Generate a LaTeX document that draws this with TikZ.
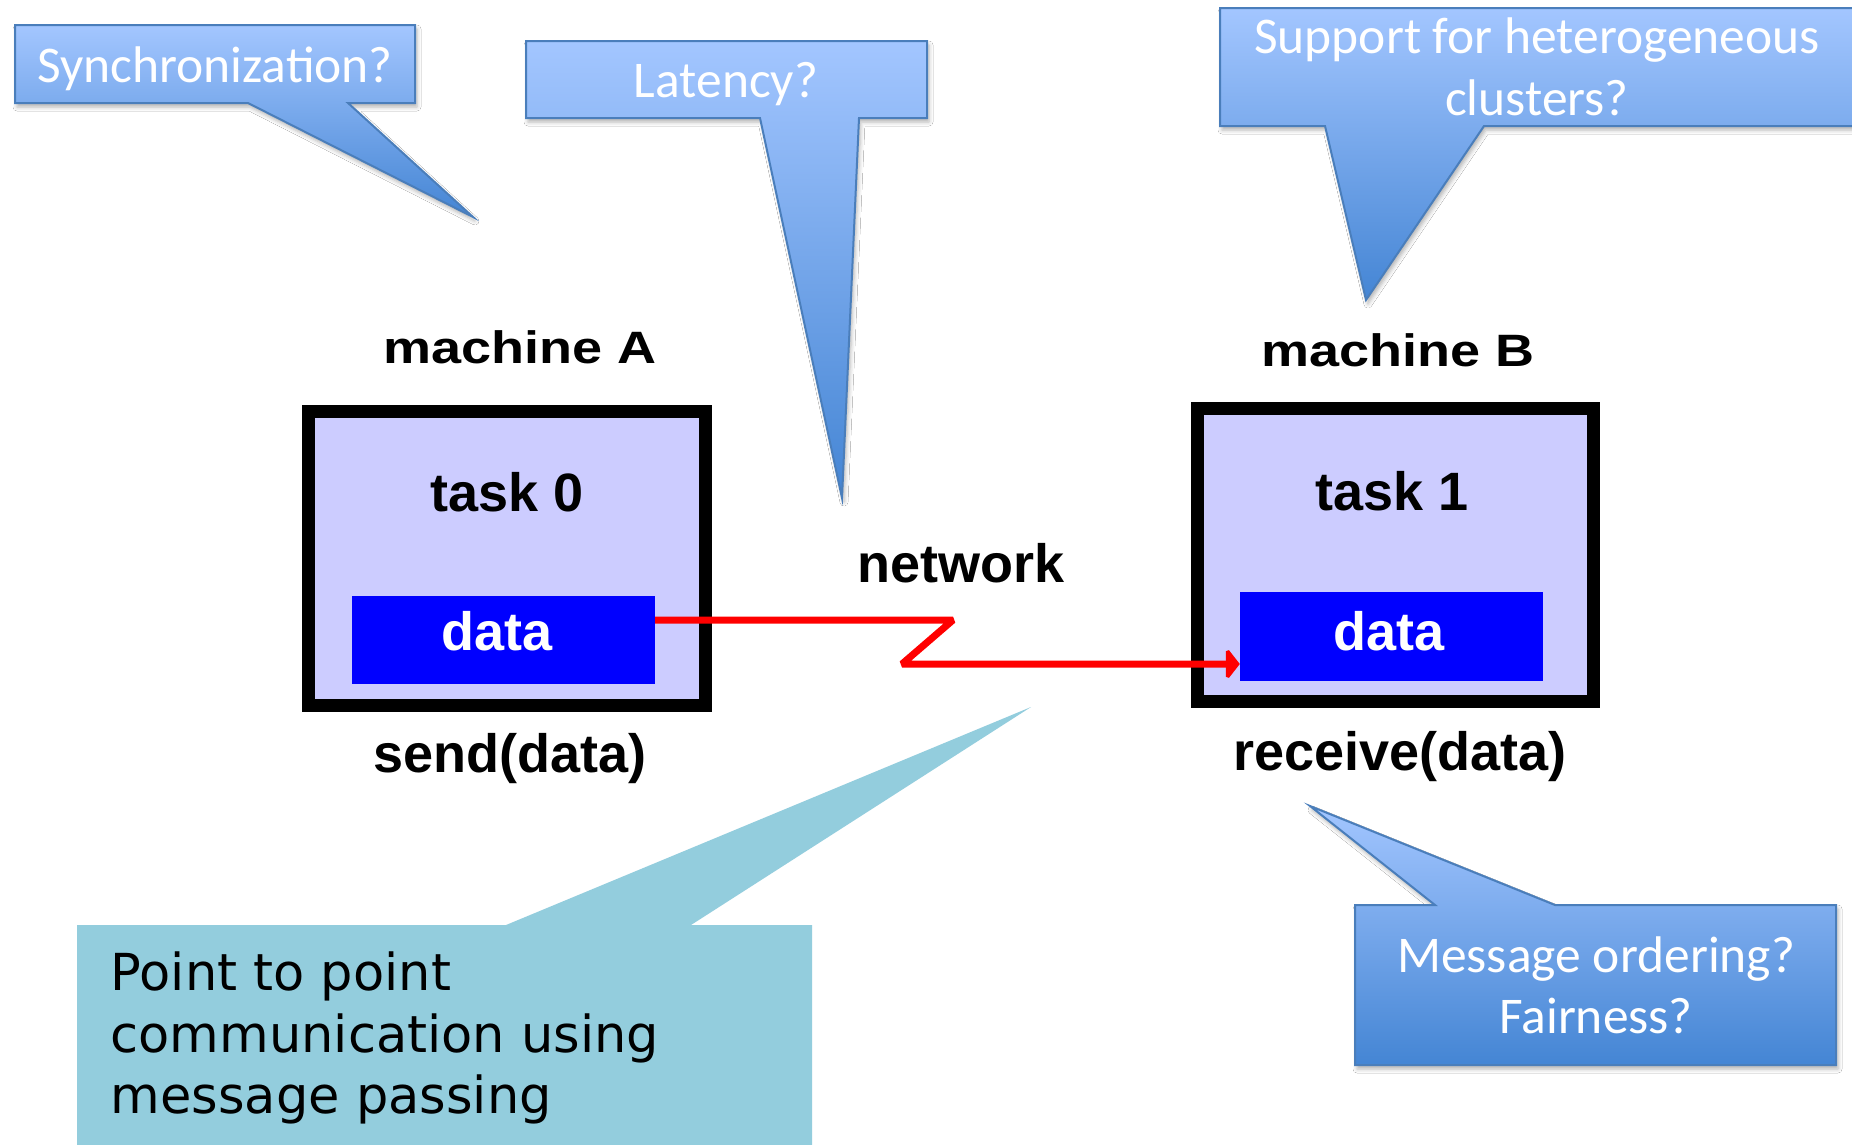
\documentclass[tikz,border=0pt]{standalone}
\usepackage{fontspec}
\setmainfont{Carlito}
\newfontfamily\labelfont{Liberation Sans}
\newfontfamily\notefont{DejaVu Sans}
\usetikzlibrary{arrows.meta,shadows.blur}

\definecolor{calloutTop}{HTML}{A3C6FF}
\definecolor{calloutBot}{HTML}{4485D4}
\definecolor{calloutLine}{HTML}{4A7EBB}
\definecolor{noteFill}{HTML}{93CDDD}
\definecolor{taskFill}{HTML}{CCCCFF}
\definecolor{dataFill}{HTML}{0000FF}

\begin{document}
\begin{tikzpicture}[x=1pt,y=-1pt,
  callout/.style={draw=calloutLine, line width=2pt, line join=miter,
    top color=calloutTop, bottom color=calloutBot,
    blur shadow={shadow xshift=2pt, shadow yshift=-4pt,
      shadow blur radius=4pt, shadow opacity=30}},
  callouttext/.style={text=white, font=\fontsize{51.5}{60}\selectfont,
    inner sep=0pt, anchor=base},
  notetext/.style={font=\notefont\fontsize{51}{62}\selectfont,
    inner sep=0pt, anchor=base west},
  labeltext/.style={font=\labelfont\bfseries\fontsize{54}{60}\selectfont,
    inner sep=0pt, anchor=base},
  machinebox/.style={draw=black, line width=13pt, fill=taskFill,
    inner sep=0pt},
  databox/.style={fill=dataFill, inner sep=0pt, minimum width=303pt},
  netlink/.style={draw=red, line width=7pt, line join=miter, miter limit=2,
    -{Triangle[length=14pt,width=35pt]}}
]
\useasboundingbox (0,0) rectangle (1852,1144);
\clip (0,0) rectangle (1852,1144);
\fill[white] (0,0) rectangle (1852,1144);

% machines and their tasks
\node[machinebox, minimum width=397.5pt, minimum height=294pt]
  (boxA) at (506.75,558.5) {};
\node[machinebox, minimum width=396pt, minimum height=293pt]
  (boxB) at (1395.5,555) {};
\node[databox, minimum height=88pt] (dataA) at (503.5,640) {};
\node[databox, minimum height=89pt] (dataB) at (1391.5,636.5) {};

\node[labeltext] (machA) at (520,363) {\scalebox{1}[0.84]{machine A}};
\node[labeltext] (machB) at (1398,366) {\scalebox{1}[0.84]{machine B}};
\node[labeltext] (task0) at (507,511) {task 0};
\node[labeltext] (task1) at (1392,510) {task 1};
\node[labeltext, text=white] (dataTxtA) at (497,650) {data};
\node[labeltext, text=white] (dataTxtB) at (1389,650) {data};
\node[labeltext] (net) at (961,582) {network};
\node[labeltext] (send) at (510,772) {send(data)};
\node[labeltext] (recv) at (1400,770) {receive(data)};

% message over the network
\coordinate (kinkT) at (953,620);
\coordinate (kinkB) at (902,664);
\draw[netlink] (dataA.east |- kinkT) -- (kinkT) -- (kinkB) -- (dataB.west |- kinkB);

% question callouts
\path[callout] (15,25) -- (415,25) -- (415,103) -- (348,103) -- (473,217)
  -- (248,103) -- (15,103) -- cycle;
\node[callouttext] (qSync) at (215,82) {Synchronization?};

\path[callout] (526,41) -- (927,41) -- (927,118) -- (859,118) -- (842,498)
  -- (760,118) -- (526,118) -- cycle;
\node[callouttext] (qLat) at (726,97) {Latency?};

\path[callout] (1220,8) -- (1866,8) -- (1866,126) -- (1484,126) -- (1366,300)
  -- (1325,126) -- (1220,126) -- cycle;
\node[callouttext] (qHet1) at (1537,53) {Support for heterogeneous};
\node[callouttext] (qHet2) at (1537,115) {clusters?};

\path[callout] (1355,905) -- (1435,905) -- (1310,806) -- (1555,905)
  -- (1836,905) -- (1836,1065) -- (1355,1065) -- cycle;
\node[callouttext] (qOrd) at (1596,972) {Message ordering?};
\node[callouttext] (qFair) at (1596,1033) {Fairness?};

% summary note
\fill[noteFill] (77,925) -- (506,925) -- (1031,707) -- (691,925) -- (812,925)
  -- (812,1160) -- (77,1160) -- cycle;
\node[notetext] (note1) at (110.5,990) {Point to point};
\node[notetext] (note2) at (110.5,1052) {communication using};
\node[notetext] (note3) at (110.5,1113) {message passing};
\end{tikzpicture}
\end{document}
